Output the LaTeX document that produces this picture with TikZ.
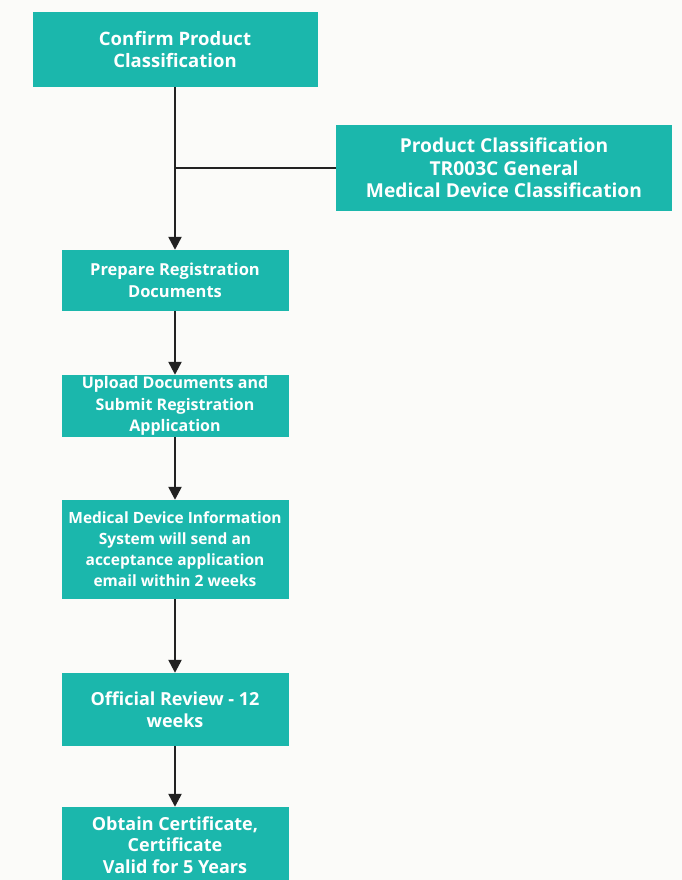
\documentclass[tikz,border=0pt]{standalone}
\usepackage{fontspec}
\setmainfont{Open Sans}
\usetikzlibrary{arrows.meta}
\definecolor{tealbox}{RGB}{27,183,172}
\definecolor{bgcol}{RGB}{251,251,249}
\definecolor{linecol}{RGB}{34,34,34}
\begin{document}
\begin{tikzpicture}[x=1pt,y=-1pt,
  box/.style={fill=tealbox, text=white, align=center, inner sep=0pt,
    font=\bfseries\fontsize{15.5}{21}\selectfont},
  fs/.style={font=\bfseries\fontsize{#1}{21.5}\selectfont},
  flow/.style={draw=linecol, line width=2.4pt, -{Triangle[length=13pt,width=13pt]}},
  link/.style={draw=linecol, line width=2.4pt}]
\useasboundingbox (0,0) rectangle (682,880);
\fill[bgcol] (0,0) rectangle (682,880);
\clip (0,0) rectangle (682,880);

\node[box, font=\bfseries\fontsize{18.5}{22.5}\selectfont, minimum width=285pt, minimum height=75pt] (b1) at (175,49.5)
  {Confirm Product\\Classification};
\node[box, font=\bfseries\fontsize{19.2}{22.5}\selectfont, minimum width=336pt, minimum height=86pt] (b2) at (504,168)
  {Product Classification\\TR003C General\\Medical Device Classification};
\node[box, fs=16.5, minimum width=227pt, minimum height=61pt] (b3) at (175,280.5)
  {Prepare Registration\\Documents};
\node[box, fs=16, minimum width=227pt, minimum height=62pt] (b4) at (175,406)
  {Upload Documents and\\Submit Registration\\Application};
\node[box, minimum width=227pt, minimum height=99pt] (b5) at (175,549.5)
  {Medical Device Information\\System will send an\\acceptance application\\email within 2 weeks};
\node[box, fs=18, minimum width=227pt, minimum height=73pt] (b6) at (175,709.5)
  {Official Review - 12\\weeks};
\node[box, fs=18, minimum width=227pt, minimum height=76pt] (b7) at (175,845)
  {Obtain Certificate,\\Certificate\\Valid for 5 Years};

\coordinate (j) at (b1.south |- b2.west);
\draw[flow] (b1.south) -- (b3.north);
\draw[link] (j) -- (b2.west);
\draw[flow] (b3) -- (b4);
\draw[flow] (b4) -- (b5);
\draw[flow] (b5) -- (b6);
\draw[flow] (b6) -- (b7);
\end{tikzpicture}
\end{document}
